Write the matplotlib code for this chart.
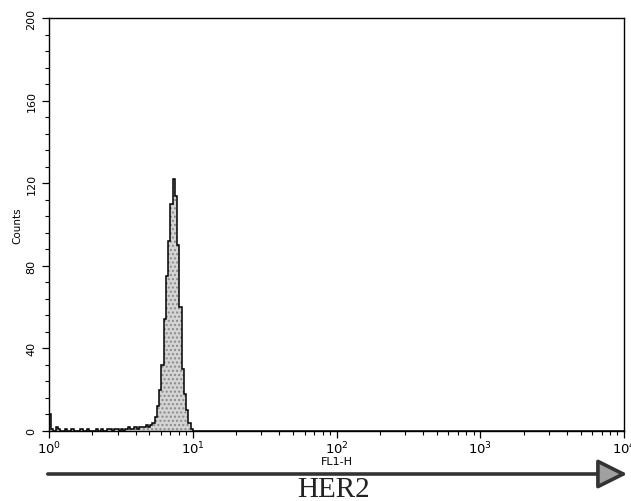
import matplotlib
matplotlib.use("Agg")
import matplotlib.pyplot as plt
from matplotlib.patches import FancyArrowPatch
from matplotlib.ticker import LogLocator, MultipleLocator
import numpy as np

# 256 channels over 4 decades (FL1-H, log amplification)
n_channels = 256
channels_per_decade = 64

# baseline debris, channels 0..43
noise_counts = [8, 1, 0, 2, 1, 0, 0, 1, 0, 0, 1, 0, 0, 0, 1, 0, 0, 1, 0, 0, 0, 1,
                0, 1, 0, 0, 1, 1, 0, 1, 1, 0, 1, 0, 1, 2, 1, 1, 2, 1, 2, 2, 2, 3]

# main peak, channels 44..63
peak_start = 44
peak_counts = [2, 3, 4, 7, 12, 20, 32, 54, 75, 92, 110, 122, 114, 90, 60, 30,
               18, 10, 4, 1]

y_ticks = [0, 40, 80, 120, 160, 200]


def main():
	counts = np.zeros(n_channels)
	counts[:len(noise_counts)] = noise_counts
	counts[peak_start:peak_start + len(peak_counts)] = peak_counts
	edges = 10 ** (np.arange(n_channels + 1) / channels_per_decade)

	fig = plt.figure(figsize=(6.31, 5.02), dpi=100)
	ax = fig.add_axes([49 / 631, 70 / 502, 575 / 631, 413 / 502])

	#filled histogram + outline
	ax.stairs(counts, edges, fill=True, facecolor='#d4d4d4', edgecolor='#8a8a8a',
			  hatch='....', linewidth=0)
	ax.stairs(counts, edges, color='black', linewidth=1.1)

	ax.set_xscale('log')
	ax.set_xlim(1, 10 ** 4)
	ax.set_ylim(0, 200)
	ax.set_yticks(y_ticks)
	ax.yaxis.set_minor_locator(MultipleLocator(8))
	ax.xaxis.set_major_locator(LogLocator(base=10))
	ax.xaxis.set_minor_locator(LogLocator(base=10, subs=np.arange(2, 10)))

	ax.tick_params(axis='both', which='both', direction='out', color='black')
	ax.tick_params(axis='both', which='major', length=5, width=0.9)
	ax.tick_params(axis='both', which='minor', length=3, width=0.8)
	ax.tick_params(axis='y', labelsize=8, labelrotation=90, pad=4)
	ax.tick_params(axis='x', labelsize=9.5, pad=1)
	for lbl in ax.get_yticklabels():
		lbl.set_va('center')

	ax.set_ylabel('Counts', fontsize=7.5, labelpad=3)
	ax.set_xlabel('FL1-H', fontsize=8, labelpad=0)

	for sp in ax.spines.values():
		sp.set_linewidth(1.0)

	#HER2 arrow under the axis
	y_arrow = 1 - 475 / 502
	arrow = FancyArrowPatch((45 / 631, y_arrow), (630 / 631, y_arrow),
							transform=fig.transFigure,
							arrowstyle='-|>,head_length=1.3,head_width=0.65',
							mutation_scale=14, linewidth=2.6,
							edgecolor='#333333', facecolor='#a0a0a0')
	fig.add_artist(arrow)

	fig.text(333 / 631, 1 - 490 / 502, 'HER2', ha='center', va='center',
			 family='Liberation Serif', fontsize=21, color='#222222')

	fig.savefig('out.png', dpi=100)


if __name__ == '__main__':
	main()
